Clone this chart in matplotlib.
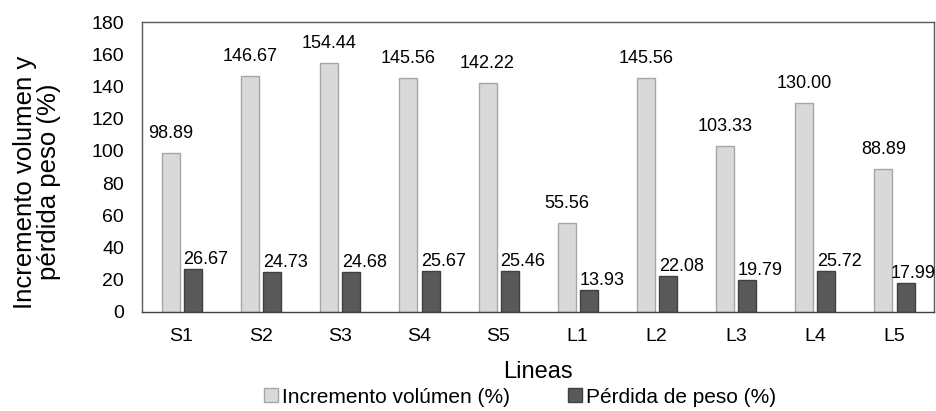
import numpy as np
import matplotlib.pyplot as plt

plt.rcParams['font.family'] = ['Liberation Sans', 'DejaVu Sans']

lineas = ['S1', 'S2', 'S3', 'S4', 'S5', 'L1', 'L2', 'L3', 'L4', 'L5']
incremento = [98.89, 146.67, 154.44, 145.56, 142.22, 55.56, 145.56, 103.33, 130.00, 88.89]
perdida = [26.67, 24.73, 24.68, 25.67, 25.46, 13.93, 22.08, 19.79, 25.72, 17.99]

fig = plt.figure(figsize=(9.37, 4.11), dpi=100)
ax = fig.add_axes([0.1515, 0.241, 0.845, 0.705])

x = np.arange(len(lineas))
w = 0.227
b1 = ax.bar(x - 0.135, incremento, w, color='#d9d9d9', edgecolor='#a6a6a6', linewidth=1,
            label='Incremento volúmen (%)')
b2 = ax.bar(x + 0.145, perdida, w, color='#595959', edgecolor='#404040', linewidth=1,
            label='Pérdida de peso (%)')

# etiquetas de valores
for rect, v in zip(b1, incremento):
    ax.annotate('%.2f' % v, (rect.get_x() + rect.get_width() / 2, v),
                xytext=(0, 10.8), textcoords='offset points',
                ha='center', va='baseline', fontsize=13)
for i, (rect, v) in enumerate(zip(b2, perdida)):
    dx = 9.4 if i < len(perdida) - 1 else 5.5  # la ultima no cabe
    ax.annotate('%.2f' % v, (rect.get_x() + rect.get_width() / 2, v),
                xytext=(dx, 3.6), textcoords='offset points',
                ha='center', va='baseline', fontsize=13)

ax.set_xlim(-0.5, 9.5)
ax.set_ylim(0, 180)
ax.set_yticks(range(0, 181, 20))
ax.set_xticks(x)
ax.set_xticklabels(lineas)
ax.tick_params(axis='both', labelsize=14, length=0)
ax.tick_params(axis='y', pad=13)
ax.tick_params(axis='x', pad=11.5)
for s in ax.spines.values():
    s.set_color('#595959')
    s.set_linewidth(1)
ax.spines['bottom'].set_color('#404040')

ax.set_xlabel('Lineas', fontsize=17)
ax.xaxis.set_label_coords(0.5, -0.228)
ax.xaxis.label.set_va('baseline')
ax.set_ylabel('Incremento volumen y\npérdida peso (%)', fontsize=18.5, linespacing=1.0)
ax.yaxis.set_label_coords(-0.132, 0.448)
ax.yaxis.label.set_va('center')

fig.legend(handles=[b1, b2], loc='center', bbox_to_anchor=(0.555, 0.034), ncol=2,
           frameon=False, fontsize=15, handlelength=0.65, handleheight=0.65,
           handletextpad=0.2, columnspacing=2.8, borderpad=0, borderaxespad=0)

fig.savefig('out.png', dpi=100)
